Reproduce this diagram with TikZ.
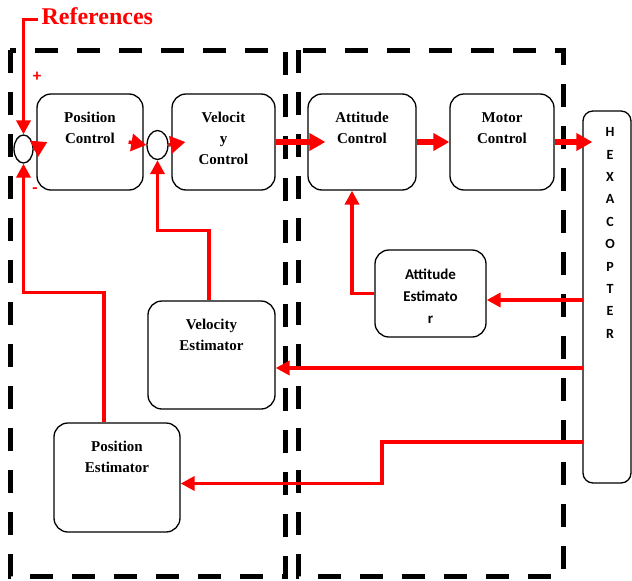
\documentclass[tikz,border=0pt]{standalone}
\usepackage{fontspec}
\setmainfont{Liberation Serif}
\newfontfamily\calfont{Carlito}
\usetikzlibrary{arrows.meta,shapes.geometric}
\tikzset{
  every picture/.style={x=1pt,y=-1pt}
}
\tikzset{
  zone/.style={draw=black, line width=5pt, dash pattern=on 23pt off 19pt},
  blk/.style={draw, rounded corners=14pt, line width=1.3pt, fill=white},
  btxt/.style={anchor=north, yshift=-19pt, inner sep=0pt, align=center,
    font=\bfseries\fontsize{15}{21}\selectfont},
  stxt/.style={btxt, font=\calfont\bfseries\fontsize{15}{22}\selectfont},
  sumj/.style={draw, ellipse, line width=1.3pt, inner sep=0pt, fill=white},
  fwd/.style={draw=red, line width=6pt, -{Triangle[length=16pt,width=17pt]}},
  fb/.style={draw=red, line width=3.5pt, -{Triangle[length=14pt,width=14pt]}},
  tip/.style={fb, -{Triangle[length=15pt,width=17pt]}},
  sgn/.style={text=red, font=\calfont\bfseries\fontsize{17}{17}\selectfont}
}
\begin{document}
\begin{tikzpicture}
  \useasboundingbox (0,0) rectangle (632,581);
  \draw[zone] (10,50) rectangle (285,576);
  \draw[zone] (298,50) rectangle (563,576);

  \node[blk, minimum width=106pt, minimum height=96pt,
    label={[btxt]north:Position\\Control}] (pc) at (90,142) {};
  \node[blk, minimum width=103pt, minimum height=96pt,
    label={[btxt]north:Velocit\\y\\Control}] (vc) at (223.5,142) {};
  \node[blk, minimum width=108pt, minimum height=96pt,
    label={[btxt]north:Attitude\\Control}] (ac) at (362,142) {};
  \node[blk, minimum width=104pt, minimum height=96pt,
    label={[btxt]north:Motor\\Control}] (mc) at (502,142) {};
  \node[blk, minimum width=111pt, minimum height=87pt,
    label={[stxt]north:Attitude\\Estimato\\r}] (ae) at (430.5,293.5) {};
  \node[blk, minimum width=127pt, minimum height=108pt,
    label={[btxt]north:Velocity\\Estimator}] (ve) at (211.5,355) {};
  \node[blk, minimum width=126pt, minimum height=109pt,
    label={[btxt]north:Position\\Estimator}] (pe) at (117,477.5) {};
  \node[blk, rounded corners=10pt, minimum width=48pt, minimum height=372pt,
    label={[stxt, yshift=2pt, xshift=3pt, font=\calfont\bfseries\fontsize{14}{22.4}\selectfont]north:H\\E\\X\\A\\C\\O\\P\\T\\E\\R}] (hexa) at (607,297) {};

  \node[sumj, minimum width=19pt, minimum height=28pt] (s1) at (23.5,149) {};
  \node[sumj, minimum width=21pt, minimum height=29pt] (s2) at (157.5,145) {};

  \node[anchor=base west, text=red, font=\bfseries\fontsize{24}{24}\selectfont] (refs) at (38,24) {References};
  \node[sgn] (plus) at (37,77) {+};
  \node[sgn] (minus) at (35,191) {-};

  \coordinate (tap1) at (583,300);
  \coordinate (tap2) at (583,368);
  \coordinate (tap3) at (583,442);

  \draw[fb] ([yshift=-4pt]refs.west) -| (s1.north);
  \draw[tip] (s1.east) -- ([xshift=11pt]pc.west);
  \draw[tip] ([xshift=-15pt]pc.east) -- (s2.west);
  \draw[tip] (s2.east) -- ([xshift=14pt]vc.west);
  \draw[fwd] (vc.east) -- ([xshift=18pt]ac.west);
  \draw[fwd] (ac.east) -- (mc.west);
  \draw[fwd] (mc.east) -- ([xshift=10pt]mc.east -| hexa.west);

  \draw[fb] (tap1) -- (tap1 -| ae.east);
  \draw[fb] (ae.west) -| ([xshift=-10pt]ac.south);
  \draw[fb] (tap2) -- (tap2 -| ve.east);
  \draw[fb] ([xshift=-2.5pt]ve.north) -- ++(0,-70) -| (s2.south);
  \draw[fb] (tap3) -- (382,442) |- ([yshift=-6pt]pe.east);
  \draw[fb] ([xshift=-13pt]pe.north) -- ++(0,-130) -| (s1.south);
\end{tikzpicture}
\end{document}
